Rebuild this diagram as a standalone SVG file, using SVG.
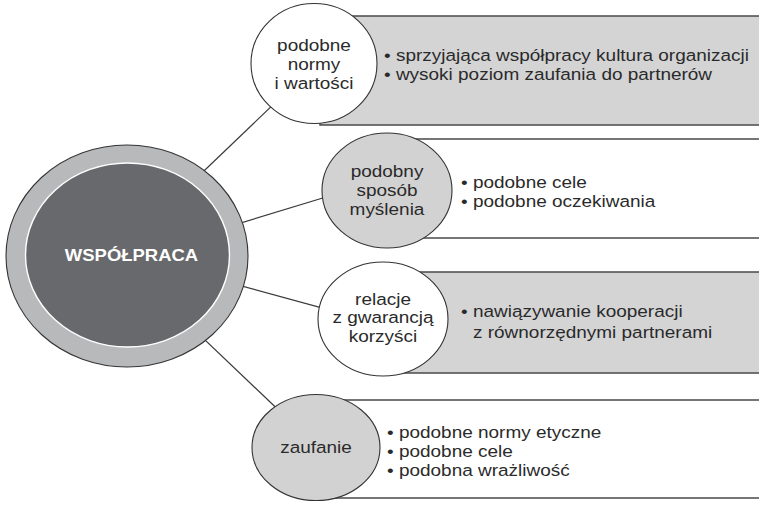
<svg xmlns="http://www.w3.org/2000/svg" width="759" height="507" viewBox="0 0 759 507">
  <style>
    .bg { fill: #ffffff; }
    .line { stroke: #3a3a3a; stroke-width: 1.2; fill: none; }
    .box-grey { fill: #d4d4d5; stroke: #4a4a4a; stroke-width: 1.5; }
    .box-white { fill: #ffffff; stroke: #4a4a4a; stroke-width: 1.5; }
    .node-white { fill: #ffffff; stroke: #333333; stroke-width: 1.1; }
    .node-grey { fill: #d2d2d3; stroke: #333333; stroke-width: 1.1; }
    .ring { fill: #b8b9bb; stroke: #333333; stroke-width: 1.1; }
    .core { fill: #68696c; stroke: #ffffff; stroke-width: 1.4; }
    text { font-family: "Liberation Sans", Arial, Helvetica, sans-serif; font-size: 16.5px; fill: #2a2a2a; }
    .c { text-anchor: middle; }
    .title { font-weight: bold; fill: #ffffff; }
  </style>

  <rect class="bg" x="0" y="0" width="759" height="507"/>

  <!-- connectors from the central ellipse to each topic circle -->
  <g id="connectors">
    <line class="line" x1="160" y1="213" x2="300" y2="79"/>
    <line class="line" x1="200" y1="235.4" x2="340" y2="192.8"/>
    <line class="line" x1="200" y1="274.7" x2="340" y2="312.9"/>
    <line class="line" x1="170" y1="306.6" x2="290" y2="421"/>
  </g>

  <!-- central node -->
  <g id="wspolpraca">
    <ellipse class="ring" cx="127" cy="256" rx="121" ry="111"/>
    <ellipse class="core" cx="127.5" cy="255" rx="102" ry="92"/>
    <text class="title c" transform="translate(131.5 261) scale(1.12 1)">WSPÓŁPRACA</text>
  </g>

  <!-- topic 1 -->
  <g id="normy">
    <rect class="box-grey" x="320" y="16" width="460" height="109"/>
    <ellipse class="node-white" cx="314" cy="63.5" rx="63" ry="60"/>
    <text class="c" transform="translate(314 51) scale(1.15 1)">podobne</text>
    <text class="c" transform="translate(314 70) scale(1.15 1)">normy</text>
    <text class="c" transform="translate(314 89) scale(1.15 1)">i wartości</text>
    <text transform="translate(384 61) scale(1.15 1)">• sprzyjająca współpracy kultura organizacji</text>
    <text transform="translate(384 80) scale(1.15 1)">• wysoki poziom zaufania do partnerów</text>
  </g>

  <!-- topic 2 -->
  <g id="sposob-myslenia">
    <rect class="box-white" x="390" y="139" width="390" height="99"/>
    <ellipse class="node-grey" cx="387" cy="190.5" rx="65" ry="57.5"/>
    <text class="c" transform="translate(387 177) scale(1.15 1)">podobny</text>
    <text class="c" transform="translate(387 196) scale(1.15 1)">sposób</text>
    <text class="c" transform="translate(387 215) scale(1.15 1)">myślenia</text>
    <text transform="translate(461 188) scale(1.15 1)">• podobne cele</text>
    <text transform="translate(461 207) scale(1.15 1)">• podobne oczekiwania</text>
  </g>

  <!-- topic 3 -->
  <g id="relacje">
    <rect class="box-grey" x="385" y="272" width="395" height="101"/>
    <ellipse class="node-white" cx="383" cy="319" rx="65" ry="57"/>
    <text class="c" transform="translate(383 305) scale(1.15 1)">relacje</text>
    <text class="c" transform="translate(383 323) scale(1.15 1)">z gwarancją</text>
    <text class="c" transform="translate(383 342) scale(1.15 1)">korzyści</text>
    <text transform="translate(461 317) scale(1.15 1)">• nawiązywanie kooperacji</text>
    <text transform="translate(473 338) scale(1.15 1)">z równorzędnymi partnerami</text>
  </g>

  <!-- topic 4 -->
  <g id="zaufanie">
    <rect class="box-white" x="320" y="400" width="460" height="98"/>
    <ellipse class="node-grey" cx="316" cy="447.5" rx="64" ry="53"/>
    <text class="c" transform="translate(316 453) scale(1.15 1)">zaufanie</text>
    <text transform="translate(387 438) scale(1.15 1)">• podobne normy etyczne</text>
    <text transform="translate(387 457) scale(1.15 1)">• podobne cele</text>
    <text transform="translate(387 476) scale(1.15 1)">• podobna wrażliwość</text>
  </g>
</svg>
